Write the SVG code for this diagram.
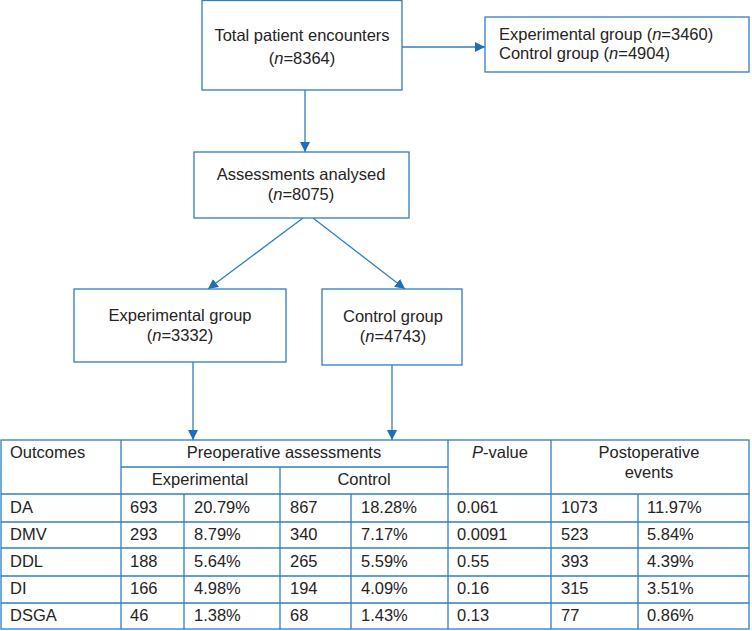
<svg xmlns="http://www.w3.org/2000/svg" width="752" height="631" viewBox="0 0 752 631">
<style>
.box{fill:#fff;stroke:#2f7fc1;stroke-width:1.3}
.ln{stroke:#2f7fc1;stroke-width:1.3;fill:none}
.tl{stroke:#2f7fc1;stroke-width:1.3}
text{font-family:"Liberation Sans",Arial,sans-serif;font-size:16.5px;fill:#262324}
.c{text-anchor:middle}
</style>
<defs>
<marker id="ah" markerUnits="userSpaceOnUse" markerWidth="10" markerHeight="10" viewBox="0 0 10 10" refX="10" refY="5" orient="auto">
<path d="M0,0 L10,5 L0,10 Z" fill="#1f6fb5"/>
</marker>
</defs>
<rect width="752" height="631" fill="#fff"/>
<g id="connectors">
<line class="ln" x1="402" y1="47" x2="485" y2="47" marker-end="url(#ah)"/>
<line class="ln" x1="305" y1="90" x2="305" y2="152" marker-end="url(#ah)"/>
<line class="ln" x1="303" y1="218" x2="208" y2="289" marker-end="url(#ah)"/>
<line class="ln" x1="313" y1="218" x2="405" y2="289" marker-end="url(#ah)"/>
<line class="ln" x1="193" y1="362" x2="193" y2="440" marker-end="url(#ah)"/>
<line class="ln" x1="392" y1="365" x2="392" y2="440" marker-end="url(#ah)"/>
</g>
<g id="total">
<rect class="box" x="202" y="0.5" width="200" height="89.5"/>
<text class="c" x="302" y="41">Total patient encounters</text>
<text class="c" x="302" y="64">(<tspan font-style="italic">n</tspan>=8364)</text>
</g>
<g id="groups">
<rect class="box" x="485" y="17" width="264" height="55"/>
<text x="499" y="40">Experimental group (<tspan font-style="italic">n</tspan>=3460)</text>
<text x="499" y="59">Control group (<tspan font-style="italic">n</tspan>=4904)</text>
</g>
<g id="assessments">
<rect class="box" x="194" y="152" width="215" height="66"/>
<text class="c" x="301" y="180">Assessments analysed</text>
<text class="c" x="301" y="200">(<tspan font-style="italic">n</tspan>=8075)</text>
</g>
<g id="experimental">
<rect class="box" x="74" y="289" width="212" height="73"/>
<text class="c" x="180" y="321">Experimental group</text>
<text class="c" x="180" y="341">(<tspan font-style="italic">n</tspan>=3332)</text>
</g>
<g id="control">
<rect class="box" x="322" y="289" width="140" height="76"/>
<text class="c" x="393" y="322">Control group</text>
<text class="c" x="393" y="342">(<tspan font-style="italic">n</tspan>=4743)</text>
</g>
<g id="table">
<rect x="1" y="440" width="748" height="189" fill="none" class="tl"/>
<line class="tl" x1="121" y1="440" x2="121" y2="629"/>
<line class="tl" x1="448" y1="440" x2="448" y2="629"/>
<line class="tl" x1="551" y1="440" x2="551" y2="629"/>
<line class="tl" x1="280" y1="467" x2="280" y2="629"/>
<line class="tl" x1="184" y1="494" x2="184" y2="629"/>
<line class="tl" x1="351" y1="494" x2="351" y2="629"/>
<line class="tl" x1="638" y1="494" x2="638" y2="629"/>
<line class="tl" x1="121" y1="467" x2="448" y2="467"/>
<line class="tl" x1="1" y1="494" x2="749" y2="494"/>
<line class="tl" x1="1" y1="522" x2="749" y2="522"/>
<line class="tl" x1="1" y1="548" x2="749" y2="548"/>
<line class="tl" x1="1" y1="576" x2="749" y2="576"/>
<line class="tl" x1="1" y1="603" x2="749" y2="603"/>
<text x="10" y="458">Outcomes</text>
<text class="c" x="284" y="458">Preoperative assessments</text>
<text class="c" x="200" y="485">Experimental</text>
<text class="c" x="364" y="485">Control</text>
<text class="c" x="500" y="458"><tspan font-style="italic">P</tspan>-value</text>
<text class="c" x="649" y="458">Postoperative</text>
<text class="c" x="649" y="478">events</text>
<g>
<text x="10" y="513">DA</text><text x="130" y="513">693</text><text x="194" y="513">20.79%</text><text x="290" y="513">867</text><text x="361" y="513">18.28%</text><text x="457" y="513">0.061</text><text x="561" y="513">1073</text><text x="647" y="513">11.97%</text>
<text x="10" y="540">DMV</text><text x="130" y="540">293</text><text x="194" y="540">8.79%</text><text x="290" y="540">340</text><text x="361" y="540">7.17%</text><text x="457" y="540">0.0091</text><text x="561" y="540">523</text><text x="647" y="540">5.84%</text>
<text x="10" y="567">DDL</text><text x="130" y="567">188</text><text x="194" y="567">5.64%</text><text x="290" y="567">265</text><text x="361" y="567">5.59%</text><text x="457" y="567">0.55</text><text x="561" y="567">393</text><text x="647" y="567">4.39%</text>
<text x="10" y="594">DI</text><text x="130" y="594">166</text><text x="194" y="594">4.98%</text><text x="290" y="594">194</text><text x="361" y="594">4.09%</text><text x="457" y="594">0.16</text><text x="561" y="594">315</text><text x="647" y="594">3.51%</text>
<text x="10" y="621">DSGA</text><text x="130" y="621">46</text><text x="194" y="621">1.38%</text><text x="290" y="621">68</text><text x="361" y="621">1.43%</text><text x="457" y="621">0.13</text><text x="561" y="621">77</text><text x="647" y="621">0.86%</text>
</g>
</g>
</svg>
